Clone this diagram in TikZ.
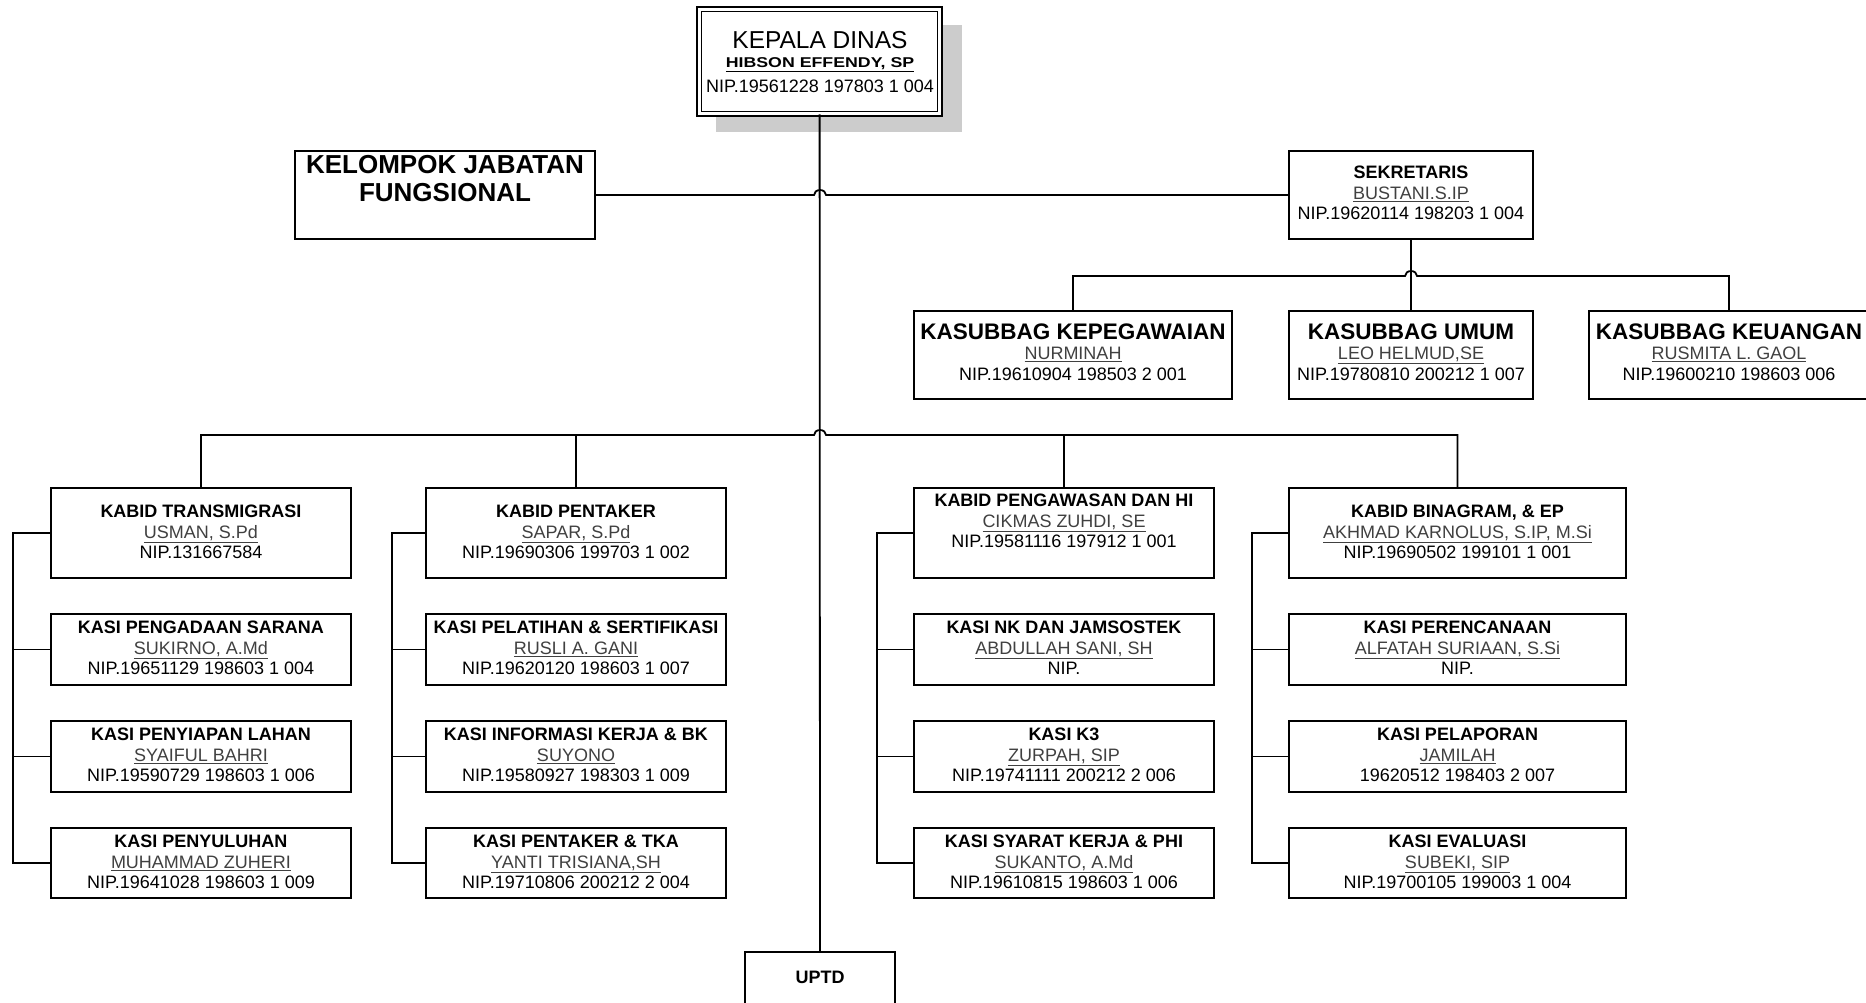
\documentclass[tikz,border=0pt]{standalone}
\usepackage{fontspec}
\setmainfont{Liberation Sans}
\usepackage{graphicx}
\begin{document}
\tikzset{
  conn/.style={line width=1.8pt, black},
  orgbox/.style={draw, line width=1.8pt, fill=white, inner sep=0pt},
  txt/.style={align=center, inner sep=0pt, font=\fontsize{18}{20.5}\selectfont},
  bump/.style={start angle=180, end angle=0, x radius=6pt, y radius=5pt},
}
\newcommand\nm[1]{\textcolor{black!75}{\underline{#1}}}
\newcommand\orgunit[7]{%
  \node[orgbox, minimum width={(#4-#2)*1pt}, minimum height={(#5-#3)*1pt}] (#1) at ({(#2+#4)/2},{(#3+#5)/2}) {};
  \node[txt] (#1-t) at ({(#2+#4)/2},#6) {#7};
}
\newcommand\bigt[1]{{\fontsize{22.5}{20.5}\selectfont\bfseries #1}}
\begin{tikzpicture}[x=1pt,y=-1pt]
\useasboundingbox (0,0) rectangle (1866,1003);
\clip (0,0) rectangle (1866,1003);

% Kepala Dinas
\node[fill=black!20, draw=none, inner sep=0pt, minimum width=246pt, minimum height=107pt] (kd-shadow) at (839,78.5) {};
\node[draw, double, double distance=3pt, line width=1.6pt, fill=white, inner sep=0pt,
      minimum width=240.5pt, minimum height=104.4pt] (kd) at (819.6,61.5) {};
\node[inner sep=0pt, font=\fontsize{24.5}{25}\selectfont] (kd-t1) at (820,40) {KEPALA DINAS};
\node[inner sep=0pt] (kd-t2) at (820,65) {\scalebox{1.25}[1]{\bfseries\fontsize{14.2}{15}\selectfont\underline{HIBSON EFFENDY, SP}}};
\node[inner sep=0pt, font=\fontsize{18}{18}\selectfont] (kd-t3) at (820,86) {NIP.19561228 197803 1 004};

% Kelompok jabatan fungsional
\node[orgbox, minimum width=300pt, minimum height=88pt] (kjf) at (445,195) {};
\node[align=center, inner sep=0pt, font=\bfseries\fontsize{26}{28}\selectfont] (kjf-t) at (445,179) {KELOMPOK JABATAN\\FUNGSIONAL};

% Sekretaris
\orgunit{sek}{1289}{151}{1533}{239}{193}{\textbf{SEKRETARIS}\\\nm{BUSTANI.S.IP}\\NIP.19620114 198203 1 004}

% Kasubbag
\orgunit{kpg}{914}{311}{1232}{399}{352}{\bigt{KASUBBAG KEPEGAWAIAN}\\\nm{NURMINAH}\\NIP.19610904 198503 2 001}
\orgunit{umum}{1289}{311}{1533}{399}{352}{\bigt{KASUBBAG UMUM}\\\nm{LEO HELMUD,SE}\\NIP.19780810 200212 1 007}
\orgunit{keu}{1589}{311}{1869}{399}{352}{\bigt{KASUBBAG KEUANGAN}\\\nm{RUSMITA L. GAOL}\\NIP.19600210 198603 006}

% Column 1
\orgunit{k1}{51}{488}{351}{578}{532}{\textbf{KABID TRANSMIGRASI}\\\nm{USMAN, S.Pd}\\NIP.131667584}
\orgunit{s1a}{51}{614}{351}{685}{648}{\textbf{KASI PENGADAAN SARANA}\\\nm{SUKIRNO, A.Md}\\NIP.19651129 198603 1 004}
\orgunit{s1b}{51}{721}{351}{792}{755}{\textbf{KASI PENYIAPAN LAHAN}\\\nm{SYAIFUL BAHRI}\\NIP.19590729 198603 1 006}
\orgunit{s1c}{51}{828}{351}{898}{862}{\textbf{KASI PENYULUHAN}\\\nm{MUHAMMAD ZUHERI}\\NIP.19641028 198603 1 009}

% Column 2
\orgunit{k2}{426}{488}{726}{578}{532}{\textbf{KABID PENTAKER}\\\nm{SAPAR, S.Pd}\\NIP.19690306 199703 1 002}
\orgunit{s2a}{426}{614}{726}{685}{648}{\textbf{KASI PELATIHAN \& SERTIFIKASI}\\\nm{RUSLI A. GANI}\\NIP.19620120 198603 1 007}
\orgunit{s2b}{426}{721}{726}{792}{755}{\textbf{KASI INFORMASI KERJA \& BK}\\\nm{SUYONO}\\NIP.19580927 198303 1 009}
\orgunit{s2c}{426}{828}{726}{898}{862}{\textbf{KASI PENTAKER \& TKA}\\\nm{YANTI TRISIANA,SH}\\NIP.19710806 200212 2 004}

% Column 3
\orgunit{k3}{914}{488}{1214}{578}{521}{\textbf{KABID PENGAWASAN DAN HI}\\\nm{CIKMAS ZUHDI, SE}\\NIP.19581116 197912 1 001}
\orgunit{s3a}{914}{614}{1214}{685}{648}{\textbf{KASI NK DAN JAMSOSTEK}\\\nm{ABDULLAH SANI, SH}\\NIP.}
\orgunit{s3b}{914}{721}{1214}{792}{755}{\textbf{KASI K3}\\\nm{ZURPAH, SIP}\\NIP.19741111 200212 2 006}
\orgunit{s3c}{914}{828}{1214}{898}{862}{\textbf{KASI SYARAT KERJA \& PHI}\\\nm{SUKANTO, A.Md}\\NIP.19610815 198603 1 006}

% Column 4
\orgunit{k4}{1289}{488}{1626}{578}{532}{\textbf{KABID BINAGRAM, \& EP}\\\nm{AKHMAD KARNOLUS, S.IP, M.Si}\\NIP.19690502 199101 1 001}
\orgunit{s4a}{1289}{614}{1626}{685}{648}{\textbf{KASI PERENCANAAN}\\\nm{ALFATAH SURIAAN, S.Si}\\NIP.}
\orgunit{s4b}{1289}{721}{1626}{792}{755}{\textbf{KASI PELAPORAN}\\\nm{JAMILAH}\\19620512 198403 2 007}
\orgunit{s4c}{1289}{828}{1626}{898}{862}{\textbf{KASI EVALUASI}\\\nm{SUBEKI, SIP}\\NIP.19700105 199003 1 004}

% UPTD
\node[orgbox, minimum width=150pt, minimum height=70pt] (uptd) at (820,987) {};
\node[inner sep=0pt, font=\bfseries\fontsize{18}{18}\selectfont] (uptd-t) at (820,977) {UPTD};

% junction points
\coordinate (j1) at (820,195);
\coordinate (j2) at (1411,276);
\coordinate (j3) at (820,435);

% connectors
\draw[conn] (kd.south) -- (uptd.north);
\draw[conn] (kjf.east) -- ([xshift=-6pt]j1) arc[bump] -- (sek.west);
\draw[conn] (sek.south) -- (umum.north);
\draw[conn] (kpg.north) |- ([xshift=-6pt]j2) arc[bump] -| (keu.north);
\draw[conn] (k1.north) |- ([xshift=-6pt]j3) arc[bump] -| (k4.north);
\draw[conn] (k2.north) -- (k2.north |- j3);
\draw[conn] (k3.north) -- (k3.north |- j3);

\draw[conn] (k1.west) -- ++(-37,0) |- (s1c.west);
\draw[conn] (s1a.west) -- ++(-37,0);
\draw[conn] (s1b.west) -- ++(-37,0);
\draw[conn] (k2.west) -- ++(-33,0) |- (s2c.west);
\draw[conn] (s2a.west) -- ++(-33,0);
\draw[conn] (s2b.west) -- ++(-33,0);
\draw[conn] (k3.west) -- ++(-36,0) |- (s3c.west);
\draw[conn] (s3a.west) -- ++(-36,0);
\draw[conn] (s3b.west) -- ++(-36,0);
\draw[conn] (k4.west) -- ++(-36,0) |- (s4c.west);
\draw[conn] (s4a.west) -- ++(-36,0);
\draw[conn] (s4b.west) -- ++(-36,0);
\end{tikzpicture}
\end{document}
